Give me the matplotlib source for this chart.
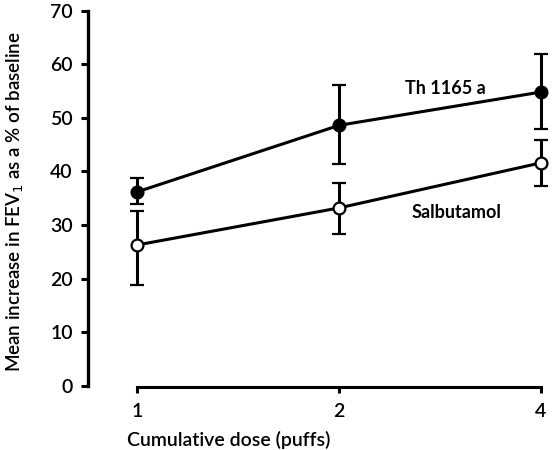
import matplotlib
matplotlib.use("Agg")
import matplotlib.pyplot as plt
from matplotlib.ticker import FixedLocator, FixedFormatter, NullLocator

plt.rcParams["font.family"] = ["Lato", "DejaVu Sans"]

# cumulative dose (puffs)
doses = [1, 2, 4]
dose_labels = ["1", "2", "4"]

# Th 1165 a: mean and error bar ends
th_mean = [36.2, 48.6, 54.8]
th_upper = [38.7, 56.2, 61.8]
th_lower = [34.0, 41.3, 48.0]

# Salbutamol
sal_mean = [26.3, 33.2, 41.6]
sal_upper = [32.6, 37.9, 45.9]
sal_lower = [18.9, 28.3, 37.2]

y_ticks = [0, 10, 20, 30, 40, 50, 60, 70]

fig = plt.figure(figsize=(5.57, 4.5), dpi=100)
# axes box in pixels: left 88, right 550, top 10.5, bottom 386
ax = fig.add_axes([88 / 557, 1 - 386 / 450, 462 / 557, (386 - 10.5) / 450])

ax.set_xscale("log", base=2)
ax.set_xlim(0.844, 4.126)
ax.set_ylim(0, 70)

for mean, up, lo, face in [(th_mean, th_upper, th_lower, "black"),
                           (sal_mean, sal_upper, sal_lower, "white")]:
    err = [[m - l for m, l in zip(mean, lo)], [u - m for m, u in zip(mean, up)]]
    ax.errorbar(doses, mean, yerr=err, color="black", lw=2.2, elinewidth=2.2,
                capsize=5, capthick=2.2, marker="o", ms=8.5,
                mfc=face, mec="black", mew=1.6, zorder=3)

ax.text(2.876, 55.5, "Th 1165 a", ha="center", va="center", fontsize=13,
        fontweight="bold")
ax.text(2.99, 32.4, "Salbutamol", ha="center", va="center", fontsize=13,
        fontweight="bold")

for s in ["top", "right"]:
    ax.spines[s].set_visible(False)
ax.spines["left"].set_linewidth(2.4)
ax.spines["bottom"].set_linewidth(2.2)
ax.spines["left"].set_bounds(0, 70)
ax.spines["bottom"].set_bounds(1, 4)
ax.spines["bottom"].set_position(("outward", 1))

ax.yaxis.set_major_locator(FixedLocator(y_ticks))
ax.yaxis.set_minor_locator(NullLocator())
ax.tick_params(axis="y", direction="out", length=5, width=2.2, labelsize=14, pad=6)

ax.xaxis.set_major_locator(FixedLocator(doses))
ax.xaxis.set_major_formatter(FixedFormatter(dose_labels))
ax.xaxis.set_minor_locator(NullLocator())
ax.tick_params(axis="x", direction="out", length=4, width=2.2, labelsize=14, pad=7)
for lab in ax.get_xticklabels() + ax.get_yticklabels():
    lab.set_fontweight("semibold")

ax.set_ylabel("Mean increase in FEV$_1$ as a % of baseline", fontsize=13.5,
              fontweight="semibold")
ax.yaxis.set_label_coords(-0.135, 0.49)
ax.set_xlabel("Cumulative dose (puffs)", fontsize=14, fontweight="semibold")
ax.xaxis.set_label_coords(0.305, -0.12)

fig.savefig("out.png", dpi=100)
